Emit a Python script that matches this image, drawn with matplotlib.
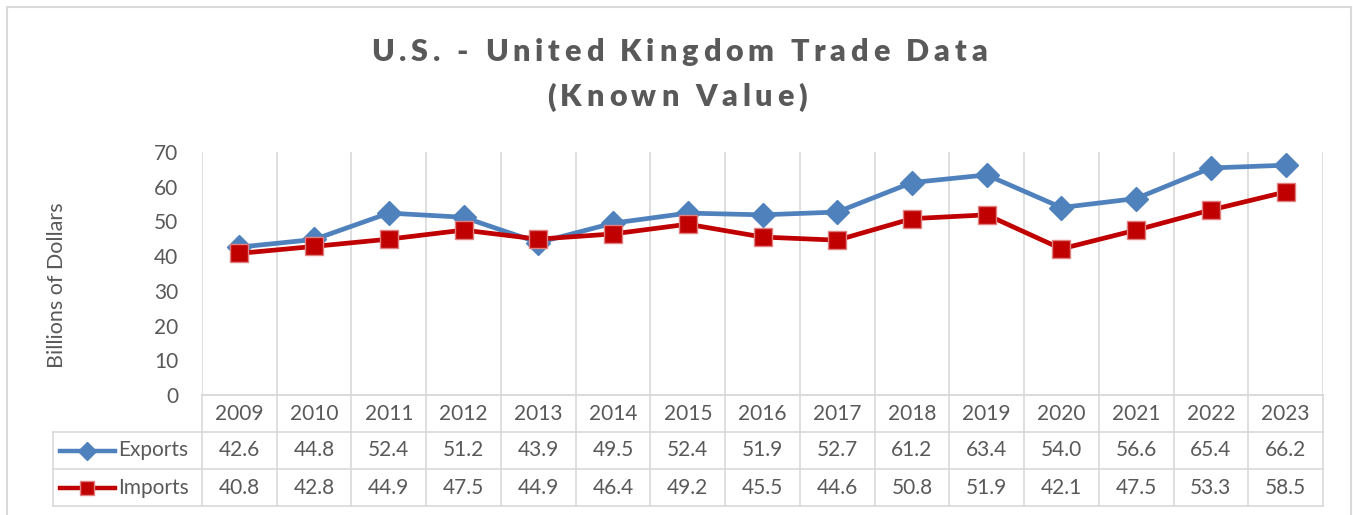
import numpy as np
import matplotlib
matplotlib.use("Agg")
import matplotlib.pyplot as plt
from matplotlib.lines import Line2D
from matplotlib.patches import Rectangle

years = ["2009", "2010", "2011", "2012", "2013", "2014", "2015", "2016",
         "2017", "2018", "2019", "2020", "2021", "2022", "2023"]
exports = [42.6, 44.8, 52.4, 51.2, 43.9, 49.5, 52.4, 51.9, 52.7, 61.2, 63.4, 54.0, 56.6, 65.4, 66.2]
imports = [40.8, 42.8, 44.9, 47.5, 44.9, 46.4, 49.2, 45.5, 44.6, 50.8, 51.9, 42.1, 47.5, 53.3, 58.5]

plt.rcParams['font.family'] = ['Lato', 'DejaVu Sans']
txt = "#595959"
grid = "#D9D9D9"
blue = "#4F81BD"
red = "#C00000"
fs = 15

W, H = 1353, 515
fig = plt.figure(figsize=(W / 100, H / 100), dpi=100)
renderer = fig.canvas.get_renderer()

def fx(px):
    return px / W

def fy(py):
    return 1 - py / H

def text_w(s, **kw):
    t = fig.text(0, 0, s, **kw)
    w = t.get_window_extent(renderer).width
    t.remove()
    return w

def spaced_title(s, xc, yc, gap, **kw):
    # Excel-style letter spacing: place each character by hand
    base = text_w("x", **kw)
    pos = [text_w(s[:i] + "x", **kw) - base for i in range(len(s))]
    total = text_w(s, **kw) + gap * (len(s) - 1)
    x0 = xc - total / 2
    for i, c in enumerate(s):
        if c != " ":
            fig.text(fx(x0 + pos[i] + gap * i), fy(yc), c, ha="left", va="center", **kw)

# outer chart border (bottom edge runs off the picture)
fig.add_artist(Rectangle((fx(7), fy(530)), fx(1351) - fx(7), fy(7) - fy(530),
                         transform=fig.transFigure, fill=False, ec=grid, lw=1.5))

left, right = 202, 1323
ax = fig.add_axes([fx(left), fy(395), fx(right) - fx(left), fy(152) - fy(395)])
x = np.arange(len(years))

ax.plot(x, exports, color=blue, lw=3.4, marker="D", ms=12, mfc=blue, mec=blue, zorder=3)
ax.plot(x, imports, color=red, lw=3.4, marker="s", ms=13, mfc=red, mec="#E08080", mew=1, zorder=4)

ax.set_xlim(-0.5, len(years) - 0.5)
ax.set_ylim(0, 70)
ax.set_yticks(range(0, 71, 10))
ax.set_xticks(np.arange(-0.5, len(years)))
ax.set_xticklabels([])
ax.tick_params(axis="x", length=0)
ax.tick_params(axis="y", length=0, pad=17, labelsize=fs, labelcolor=txt)
ax.grid(axis="x", color=grid, lw=1.2)
for s in ax.spines.values():
    s.set_visible(False)
ax.axhline(0, color=grid, lw=1.2, clip_on=False)
ax.set_ylabel("Billions of Dollars", fontsize=15.5, color=txt)
ax.yaxis.set_label_coords(-(left - 67) / (right - left), (395 - 285) / (395 - 152))

# data table under the plot
tb = fig.add_axes([fx(left), fy(506), fx(right) - fx(left), fy(395) - fy(506)])
tb.set_xlim(-0.5, len(years) - 0.5)
tb.set_ylim(0, 3)
tb.axis("off")
lab_x = -0.5 - (left - 53) / ((right - left) / len(years))
kw = dict(color=grid, lw=1.2, clip_on=False)
tb.plot([-0.5, len(years) - 0.5], [3, 3], **kw)
for yy in (2, 1, 0):
    tb.plot([lab_x, len(years) - 0.5], [yy, yy], **kw)
tb.plot([lab_x, lab_x], [0, 2], **kw)
for b in np.arange(-0.5, len(years)):
    tb.plot([b, b], [0, 3], **kw)

for i in range(len(years)):
    tb.text(i, 2.5, years[i], ha="center", va="center", fontsize=fs, color=txt)
    tb.text(i, 1.5, f"{exports[i]:.1f}", ha="center", va="center", fontsize=fs, color=txt)
    tb.text(i, 0.5, f"{imports[i]:.1f}", ha="center", va="center", fontsize=fs, color=txt)

k0, k1, km, kt = lab_x + 0.09, lab_x + 0.83, lab_x + 0.46, lab_x + 0.87
tb.add_line(Line2D([k0, k1], [1.5, 1.5], color=blue, lw=3.2, clip_on=False))
tb.add_line(Line2D([km], [1.5], color=blue, marker="D", ms=9.5, clip_on=False))
tb.add_line(Line2D([k0, k1], [0.5, 0.5], color=red, lw=3.2, clip_on=False))
tb.add_line(Line2D([km], [0.5], color=red, marker="s", ms=10.5, mec="#E08080", clip_on=False))
tb.text(kt, 1.5, "Exports", ha="left", va="center", fontsize=fs, color=txt, clip_on=False)
tb.text(kt, 0.5, "Imports", ha="left", va="center", fontsize=fs, color=txt, clip_on=False)

tkw = dict(fontsize=22, fontweight="heavy", color=txt)
spaced_title("U.S. - United Kingdom Trade Data", 679, 52, 4.8, **tkw)
spaced_title("(Known Value)", 677, 97, 4.8, **tkw)

fig.savefig("out.png", dpi=100)
